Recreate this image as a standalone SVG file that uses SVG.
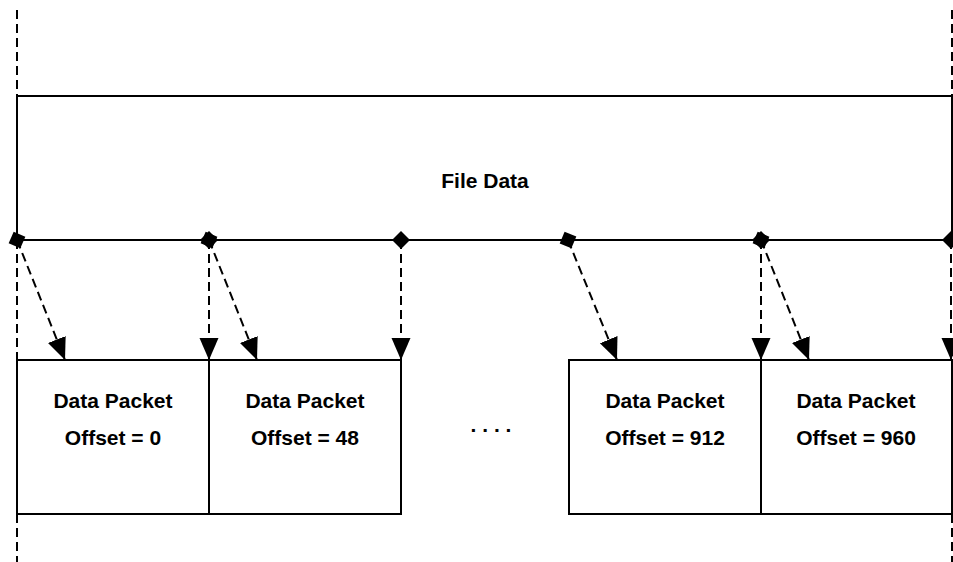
<svg xmlns="http://www.w3.org/2000/svg" width="953" height="562" viewBox="0 0 953 562">
<style>
.box{fill:#fff;stroke:#000;stroke-width:2}
.dash{fill:none;stroke:#000;stroke-width:2;stroke-dasharray:9 5}
.conn{fill:none;stroke:#000;stroke-width:2;stroke-dasharray:9 5;marker-start:url(#dia);marker-end:url(#arr)}
.t{font-family:"Liberation Sans",Arial,sans-serif;font-weight:bold;font-size:21px;fill:#000;text-anchor:middle}
</style>
<defs>
<marker id="dia" markerUnits="userSpaceOnUse" viewBox="-10 -10 20 20" markerWidth="20" markerHeight="20" refX="0" refY="0" orient="auto">
<path d="M-9,0 L0,-9 L9,0 L0,9 Z" fill="#000"/>
</marker>
<marker id="arr" markerUnits="userSpaceOnUse" viewBox="0 -10 22 20" markerWidth="22" markerHeight="20" refX="22" refY="0" orient="auto">
<path d="M0,-9.5 L22,0 L0,9.5 Z" fill="#000"/>
</marker>
</defs>
<g id="guides">
<line class="dash" x1="17" y1="10" x2="17" y2="96"/>
<line class="dash" x1="952" y1="10" x2="952" y2="96"/>
<line class="dash" x1="17" y1="514" x2="17" y2="562"/>
<line class="dash" x1="952" y1="514" x2="952" y2="562"/>
<line class="dash" x1="17" y1="240" x2="17" y2="360"/>
</g>
<g id="file-data">
<rect class="box" x="17" y="96" width="935" height="144"/>
<text class="t" x="485" y="188">File Data</text>
</g>
<g id="packet-0">
<rect class="box" x="17" y="360" width="192" height="154"/>
<text class="t" x="113" y="408">Data Packet</text>
<text class="t" x="113" y="445">Offset = 0</text>
</g>
<g id="packet-48">
<rect class="box" x="209" y="360" width="192" height="154"/>
<text class="t" x="305" y="408">Data Packet</text>
<text class="t" x="305" y="445">Offset = 48</text>
</g>
<g id="ellipsis">
<text class="t" x="491" y="432">. . . .</text>
</g>
<g id="packet-912">
<rect class="box" x="569" y="360" width="192" height="154"/>
<text class="t" x="665" y="408">Data Packet</text>
<text class="t" x="665" y="445">Offset = 912</text>
</g>
<g id="packet-960">
<rect class="box" x="761" y="360" width="191" height="154"/>
<text class="t" x="856" y="408">Data Packet</text>
<text class="t" x="856" y="445">Offset = 960</text>
</g>
<g id="connectors">
<line class="conn" x1="17" y1="240" x2="65" y2="360"/>
<line class="conn" x1="209" y1="240" x2="209" y2="360"/>
<line class="conn" x1="209" y1="240" x2="257" y2="360"/>
<line class="conn" x1="401" y1="240" x2="401" y2="360"/>
<line class="conn" x1="568" y1="240" x2="617" y2="360"/>
<line class="conn" x1="761" y1="240" x2="761" y2="360"/>
<line class="conn" x1="761" y1="240" x2="809" y2="360"/>
<line class="conn" x1="951" y1="240" x2="951" y2="360"/>
</g>
</svg>
